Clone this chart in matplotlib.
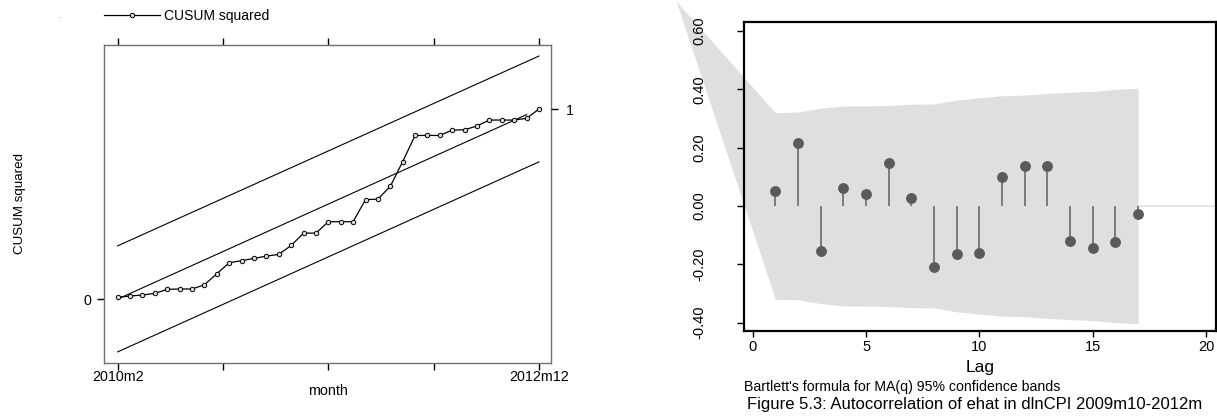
import matplotlib
matplotlib.use("Agg")
import matplotlib.pyplot as plt
from matplotlib.lines import Line2D

plt.rcParams['font.family'] = ['Liberation Sans', 'DejaVu Sans']

# ---------------- Left panel data: CUSUM squared ----------------
months = list(range(35))  # 2010m2 .. 2012m12
cusum_sq = [0.009, 0.016, 0.021, 0.030, 0.051, 0.053, 0.053, 0.075, 0.133, 0.191,
            0.202, 0.214, 0.226, 0.235, 0.282, 0.347, 0.347, 0.407, 0.407, 0.407,
            0.523, 0.526, 0.593, 0.723, 0.861, 0.861, 0.861, 0.889, 0.891, 0.911,
            0.942, 0.942, 0.942, 0.951, 1.000]
expected_months = list(range(34))
expected = [m / 34 for m in expected_months]
band_months = [0, 34]
upper_bound = [0.280, 1.279]
lower_bound = [-0.278, 0.722]
x_tick_pos = [0, 8.5, 17, 25.5, 34]
x_tick_labels = ['2010m2', '', '', '', '2012m12']

# ---------------- Right panel data: ACF ----------------
lags = list(range(1, 18))
acf = [0.052, 0.215, -0.154, 0.060, 0.040, 0.148, 0.026, -0.211, -0.165, -0.162,
       0.100, 0.138, 0.138, -0.119, -0.143, -0.123, -0.028]
band_lags = [-3.38] + lags
band_upper = [0.703, 0.320, 0.322, 0.335, 0.343, 0.343, 0.345, 0.349, 0.350, 0.363,
              0.371, 0.378, 0.380, 0.386, 0.390, 0.393, 0.400, 0.404]
band_lower = [0.703] + [-v for v in band_upper[1:]]
acf_yticks = [-0.4, -0.2, 0.0, 0.2, 0.4, 0.6]
acf_ytick_labels = ['-0.40', '-0.20', '0.00', '0.20', '0.40', '0.60']
acf_xticks = [0, 5, 10, 15, 20]

W, H = 1217, 416
fig = plt.figure(figsize=(W / 100, H / 100), dpi=100)

# ================= Left panel =================
axL = fig.add_axes([104.3 / W, 1 - 362.7 / H, (551 - 104.3) / W, (362.7 - 45) / H])
axL.set_xlim(-1.08, 34.97)
axL.set_ylim(-0.335, 1.337)
axL.plot(band_months, upper_bound, color='black', lw=0.8)
axL.plot(band_months, lower_bound, color='black', lw=0.8)
axL.plot(expected_months, expected, color='black', lw=0.8)
axL.plot(months, cusum_sq, color='black', lw=0.9, marker='o', ms=3.2,
         mfc='#dcdcdc', mec='black', mew=0.7)
for s in axL.spines.values():
    s.set_color('#707070')
    s.set_linewidth(1.0)
axL.set_xticks(x_tick_pos)
axL.set_xticklabels(x_tick_labels)
axL.tick_params(axis='x', top=True, bottom=True, direction='out', length=5,
                width=1, labelsize=10.3, pad=0.5)
axL.set_yticks([0])
axL.set_yticklabels(['0'])
axL.tick_params(axis='y', direction='out', length=5, width=1, labelsize=10.3, pad=4)
axL.set_xlabel('month', fontsize=10.3, labelpad=0)
axL.set_ylabel('CUSUM squared', fontsize=9.6, labelpad=42)
axR2 = axL.twinx()
axR2.set_ylim(axL.get_ylim())
axR2.set_yticks([1])
axR2.set_yticklabels(['1'])
axR2.tick_params(axis='y', direction='out', length=5, width=1, labelsize=10.3, pad=6)
for s in axR2.spines.values():
    s.set_visible(False)

# legend
leg_handle = Line2D([], [], color='black', lw=0.9, marker='o', ms=3.2,
                    mfc='#dcdcdc', mec='black', mew=0.7)
fig.legend([leg_handle], ['CUSUM squared'], loc='center left',
           bbox_to_anchor=(104 / W, 1 - 16 / H), bbox_transform=fig.transFigure,
           frameon=False, fontsize=10, handlelength=4.0, handletextpad=0.3,
           borderpad=0, borderaxespad=0)
fig.text(59 / W, 1 - 16 / H, '.', fontsize=5, ha='center', va='center', color='#555555')

# ================= Right panel =================
axA = fig.add_axes([744 / W, 1 - 330.7 / H, (1216 - 744) / W, (330.7 - 21.7) / H])
axA.set_xlim(-0.384, 20.44)
axA.set_ylim(-0.428, 0.632)
band_color = '#dfdfdf'
axA.axhline(0, color=band_color, lw=1.2, zorder=0.5)
poly = axA.fill_between(band_lags, band_lower, band_upper, color=band_color,
                        lw=0, zorder=0.8)
poly.set_clip_on(False)
axA.vlines(lags, 0, acf, color='#6a6a6a', lw=1.2, zorder=2)
axA.plot(lags, acf, 'o', color='#5a5a5a', ms=6.8, zorder=3)
for s in axA.spines.values():
    s.set_color('black')
    s.set_linewidth(1.6)
    s.set_zorder(4)
axA.set_yticks(acf_yticks)
axA.set_yticklabels(acf_ytick_labels, rotation=90, va='center')
axA.tick_params(axis='y', direction='out', length=5, width=1, labelsize=10.5, pad=22)
axA.set_xticks(acf_xticks)
axA.tick_params(axis='x', direction='out', length=4, width=1, labelsize=10.5, pad=3)
axA.set_xlabel('Lag', fontsize=12.5, labelpad=4)

fig.text(744.3 / W, 1 - 387 / H, "Bartlett's formula for MA(q) 95% confidence bands",
         fontsize=10.2, ha='left', va='center')
fig.text(746.7 / W, 1 - 405 / H, "Figure 5.3: Autocorrelation of ehat in dlnCPI 2009m10-2012m",
         fontsize=12, ha='left', va='center')

fig.savefig('out.png', dpi=100)
